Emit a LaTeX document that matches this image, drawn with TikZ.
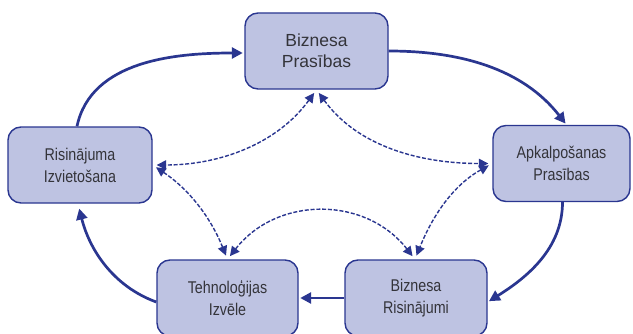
\documentclass[tikz,border=0pt]{standalone}
\usepackage{fontspec}
\setmainfont{Liberation Sans}
\newfontfamily\narrowsf[FakeStretch=0.84]{Liberation Sans}
\usetikzlibrary{arrows.meta}
\definecolor{boxfill}{RGB}{190,195,226}
\definecolor{navy}{RGB}{42,54,144}
\definecolor{txt}{RGB}{52,52,58}
\begin{document}
\begin{tikzpicture}[x=1pt,y=1pt,
  stage/.style={draw=navy, line width=1.4pt, fill=boxfill, rounded corners=13pt,
    minimum width=142pt, minimum height=76pt, inner sep=0pt, align=center,
    text=txt, font=\narrowsf\fontsize{17}{22}\selectfont},
  flow/.style={draw=navy, line width=2.7pt, -{Triangle[length=11pt,width=11pt]}, shorten >=1.5pt},
  link/.style={draw=navy, line width=1.4pt, dash pattern=on 4pt off 1.8pt,
    {Triangle[length=9.5pt,width=9.5pt]}-{Triangle[length=9.5pt,width=9.5pt]},
    shorten >=4pt, shorten <=4pt}]
\useasboundingbox (0,0) rectangle (633,333);

% stages of the cycle
\node[stage, minimum width=143pt, font=\fontsize{17.5}{21}\selectfont] (bp) at (316.5,282) {Biznesa\\Prasības};
\node[stage, minimum width=137pt] (ap) at (561.5,169.5) {Apkalpošanas\\Prasības};
\node[stage] (br) at (416,35) {Biznesa\\Risinājumi};
\node[stage, minimum width=141pt] (ti) at (227.5,35) {Tehnoloģijas\\Izvēle};
\node[stage, minimum width=144pt] (ri) at (80,168) {Risinājuma\\Izvietošana};

% main cycle
\draw[flow] ([xshift=-3pt]ri.north) to[out=78,in=180,looseness=0.95] ([yshift=-2pt]bp.west);
\draw[flow] (bp.east) to[out=0,in=128,looseness=0.95] ([xshift=5pt]ap.north);
\draw[flow] ([xshift=1pt]ap.south) to[out=-90,in=32,looseness=0.95] ([yshift=-4pt]br.east);
\draw[flow] (br.west) -- (ti.west -| ti.east);
\draw[flow, shorten >=5pt] ([yshift=-4pt]ti.west) to[out=160,in=-76,looseness=0.95] ([xshift=-2pt]ri.south);

% cross links
\draw[link] (bp.south) to[out=234,in=0,looseness=0.95] (ri.east);
\draw[link] (bp.south) to[out=-54,in=180,looseness=0.95] (ap.east -| ap.west);
\draw[link] (ri.east) to[out=-34,in=112,looseness=0.95] (ti.north);
\draw[link] (ti.north) to[out=52,in=128,looseness=1.1] ([xshift=-1pt]br.north);
\draw[link] (ap.west) to[out=209,in=68,looseness=0.95] ([xshift=-1pt]br.north);
\end{tikzpicture}
\end{document}
